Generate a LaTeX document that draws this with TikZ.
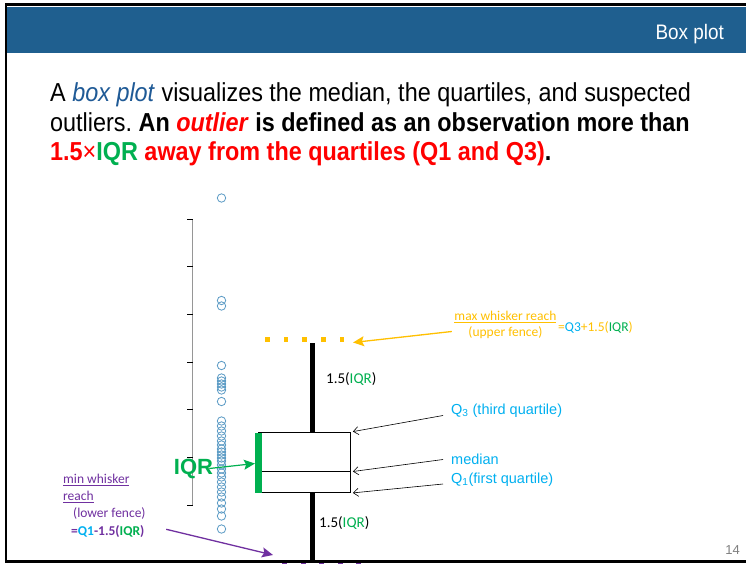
\documentclass[tikz,border=0pt]{standalone}
\usepackage{fontspec}
\setmainfont{Liberation Sans}
\newfontfamily\narrowfont[FakeStretch=0.9]{Liberation Sans}
\newfontfamily\calibfont{Carlito}
\usetikzlibrary{arrows.meta}
\frenchspacing

\definecolor{headblue}{RGB}{31,95,143}
\definecolor{italicblue}{RGB}{31,90,150}
\definecolor{qblue}{RGB}{0,176,240}
\definecolor{iqrgreen}{RGB}{0,176,80}
\definecolor{fenceorange}{RGB}{255,192,0}
\definecolor{fencepurple}{RGB}{112,48,160}
\definecolor{dotblue}{RGB}{91,155,197}
\definecolor{axisgrey}{RGB}{150,150,150}
\definecolor{pagegrey}{RGB}{128,128,128}

\begin{document}
\begin{tikzpicture}[x=1pt,y=-1pt,
    whisker/.style={line width=5pt},
    outlier/.style={draw=dotblue,line width=0.8pt},
    pointer/.style={-{Straight Barb[length=5pt,width=8pt]},line width=0.6pt},
    callout/.style={-{Stealth[length=11pt,width=10pt,inset=2pt]},line width=1.3pt},
    lbl/.style={inner sep=0pt,font=\calibfont\fontsize{13.5}{16.3}\selectfont},
    qlbl/.style={inner sep=0pt,anchor=west,text=qblue,font=\fontsize{14.5}{17}\selectfont},
  ]

  \useasboundingbox (0,0) rectangle (746,564);
  \fill[white] (0,0) rectangle (746,564);

  % header
  \fill[headblue] (7,7) rectangle (746,53);
  \node[anchor=base east,text=white,inner sep=0,font=\narrowfont\fontsize{21}{25}\selectfont] (title) at (724,39.5) {Box plot};

  \begin{scope}[every node/.style={anchor=base west,inner sep=0,font=\narrowfont\fontsize{26}{30}\selectfont}]
    \node (line1) at (50,101.5) {A \textcolor{italicblue}{\textit{box plot}} visualizes the median, the quartiles, and suspected};
    \node (line2) at (50,131.5) {outliers. \textbf{An \textcolor{red}{\textit{outlier}} is defined as an observation more than}};
    \node (line3) at (50,160.5) {\textbf{\textcolor{red}{1.5}\textcolor{red}{\mdseries\texttimes}\textcolor{iqrgreen}{IQR} \textcolor{red}{away from the quartiles (Q1 and Q3)}.}};
  \end{scope}

  % axis and data
  \draw[axisgrey,line width=1pt] (192.5,219) -- (192.5,504.5);
  \foreach \y in {219,266.7,...,506}
    \draw[line width=0.8pt] (187,\y) -- (192.5,\y);
  \foreach \y in {198,300.5,306,365.5,378,381,384,387,390,401.5,421,426,431,436,441,445,449,452,455,458,461,465,469,473,477,482,487,492,497,503,509,516,529}
    \draw[outlier] (221.5,\y) circle (4.2);

  % box and whiskers
  \node[draw,line width=0.8pt,fill=white,minimum width=92.5pt,minimum height=60.5pt,inner sep=0] (box) at (304.25,462.25) {};
  \draw[line width=0.8pt] (box.west |- 0,471.5) coordinate (medL) -- (box.east |- 0,471.5) coordinate (medR);
  \fill[iqrgreen] (255,432.5) rectangle (261.5,492.5);
  \coordinate (wtop) at (312,343);
  \coordinate (wbot) at (312,561);
  \draw[whisker] (wtop) -- (wtop |- box.north);
  \draw[whisker] (wbot |- box.south) -- (wbot);
  \foreach \k in {0,...,4}
    \fill[fenceorange] (265+18.7*\k,337) rectangle ++(4.5,4.5);

  \node[anchor=west,inner sep=0,font=\calibfont\fontsize{15}{18}\selectfont] (upperiqr) at (326,379) {1.5(\textcolor{iqrgreen}{IQR})};
  \node[anchor=west,inner sep=0,font=\calibfont\fontsize{15}{18}\selectfont] (loweriqr) at (319,523) {1.5(\textcolor{iqrgreen}{IQR})};

  % quartile labels
  \node[qlbl] (q3lbl) at (451,411) {Q\textsubscript{3} (third quartile)};
  \node[qlbl] (medlbl) at (451,459.5) {median};
  \node[qlbl] (q1lbl) at (451,480) {Q\textsubscript{1}(first quartile)};
  \draw[pointer] ([shift={(-8,4.5)}]q3lbl.west) -- ([xshift=2pt]box.north east);
  \draw[pointer] ([xshift=-8pt]medlbl.west) -- ([xshift=2pt]medR);
  \draw[pointer] ([shift={(-8,4)}]q1lbl.west) -- ([xshift=2pt]box.south east);

  % upper fence
  \node[lbl,text=fenceorange,align=center] (upperlbl) at (505.4,325) {\underline{max whisker reach}\\(upper fence)};
  \node[lbl,anchor=west,text=fenceorange] (upperfml) at (558,327.7) {=\textcolor{qblue}{Q3}+1.5(\textcolor{iqrgreen}{IQR})};
  \coordinate (upperend) at (353,342.5);
  \draw[callout,fenceorange] ([shift={(-2.5,6.5)}]upperlbl.west) -- (upperend);

  % IQR
  \node[inner sep=0,text=iqrgreen,font=\bfseries\fontsize{22}{26}\selectfont] (iqrlbl) at (193.5,468.5) {IQR};
  \coordinate (iqrend) at (255,463.5);
  \draw[callout,iqrgreen,line width=1.2pt] ([xshift=-4pt]iqrlbl.east) -- (iqrend);

  % lower fence
  \node[lbl,anchor=west,text=fencepurple,align=left] (lowerlbl) at (63,488.5) {\underline{min whisker}\\\underline{reach}};
  \node[lbl,anchor=west,text=fencepurple] (lowerfence) at (73,513.3) {(lower fence)};
  \node[lbl,anchor=west,text=fencepurple,font=\calibfont\bfseries\fontsize{13.5}{16.3}\selectfont] (lowerfml) at (71,531.7) {=\textcolor{qblue}{Q1}-1.5(\textcolor{iqrgreen}{IQR})};
  \coordinate (lowerend) at (273,555);
  \draw[callout,fencepurple] ([shift={(21.7,-2.4)}]lowerfml.east) -- (lowerend);

  % slide frame
  \draw[line width=2.5pt] (746,4.5) -- (6,4.5) -- (6,561.5) -- (746,561.5);
  \foreach \k in {0,...,4}
    \fill[fencepurple] (282+18.5*\k,562.5) rectangle ++(5,4);
  \node[anchor=base east,inner sep=0,text=pagegrey,font=\fontsize{13}{15}\selectfont] (pagenum) at (740,554) {14};
\end{tikzpicture}
\end{document}
